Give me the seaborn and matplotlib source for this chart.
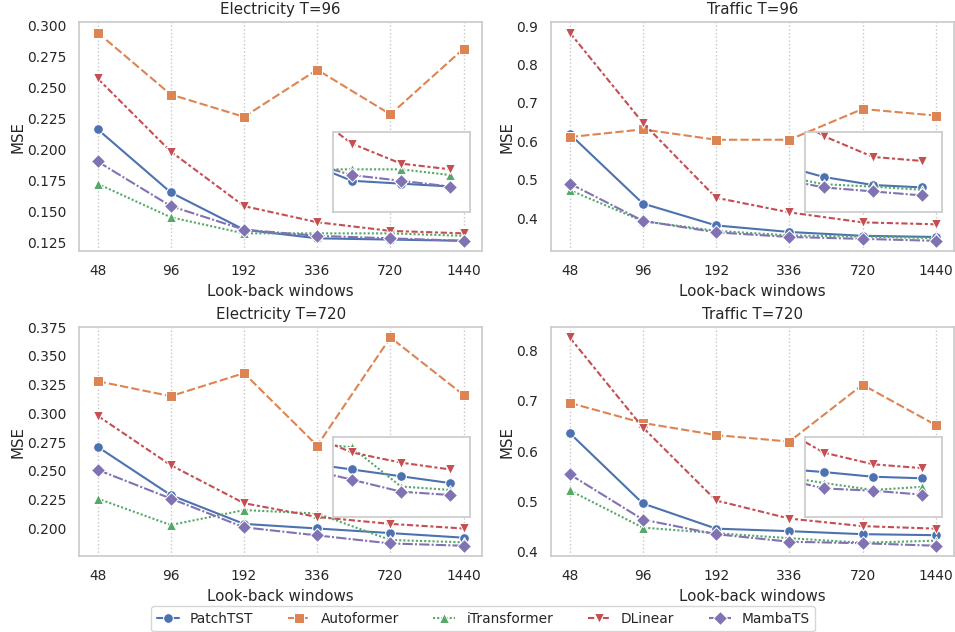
import numpy as np
import pandas as pd
import matplotlib
matplotlib.use("Agg")
import matplotlib.pyplot as plt
from matplotlib.ticker import MultipleLocator
import seaborn as sns

# Look-back windows (x categories) and model names
WINDOWS = ["48", "96", "192", "336", "720", "1440"]
MODELS = ["PatchTST", "Autoformer", "iTransformer", "DLinear", "MambaTS"]
MARKERS = ["o", "s", "^", "v", "D"]

# MSE values, one small table per panel
ELEC_96 = {
    "PatchTST":     [0.216, 0.165, 0.135, 0.128, 0.127, 0.126],
    "Autoformer":   [0.294, 0.244, 0.226, 0.264, 0.228, 0.281],
    "iTransformer": [0.172, 0.145, 0.132, 0.132, 0.132, 0.130],
    "DLinear":      [0.257, 0.198, 0.154, 0.141, 0.134, 0.132],
    "MambaTS":      [0.190, 0.154, 0.135, 0.130, 0.128, 0.126],
}
TRAFFIC_96 = {
    "PatchTST":     [0.619, 0.438, 0.381, 0.364, 0.354, 0.351],
    "Autoformer":   [0.611, 0.631, 0.604, 0.604, 0.684, 0.667],
    "iTransformer": [0.473, 0.392, 0.367, 0.355, 0.352, 0.348],
    "DLinear":      [0.883, 0.648, 0.453, 0.415, 0.389, 0.384],
    "MambaTS":      [0.490, 0.393, 0.363, 0.351, 0.346, 0.341],
}
ELEC_720 = {
    "PatchTST":     [0.271, 0.229, 0.204, 0.200, 0.196, 0.192],
    "Autoformer":   [0.328, 0.315, 0.335, 0.272, 0.366, 0.316],
    "iTransformer": [0.226, 0.203, 0.216, 0.213, 0.190, 0.188],
    "DLinear":      [0.298, 0.255, 0.222, 0.210, 0.204, 0.200],
    "MambaTS":      [0.251, 0.226, 0.201, 0.194, 0.187, 0.185],
}
TRAFFIC_720 = {
    "PatchTST":     [0.636, 0.496, 0.446, 0.441, 0.435, 0.433],
    "Autoformer":   [0.696, 0.656, 0.632, 0.619, 0.732, 0.652],
    "iTransformer": [0.522, 0.448, 0.437, 0.427, 0.418, 0.422],
    "DLinear":      [0.826, 0.647, 0.502, 0.466, 0.451, 0.446],
    "MambaTS":      [0.554, 0.464, 0.435, 0.420, 0.417, 0.412],
}

# title, data, y tick step, inset y range
PANELS = [
    ("Electricity T=96", ELEC_96, 0.025, (0.117, 0.145)),
    ("Traffic T=96", TRAFFIC_96, 0.1, (0.32, 0.42)),
    ("Electricity T=720", ELEC_720, 0.025, (0.172, 0.219)),
    ("Traffic T=720", TRAFFIC_720, 0.1, (0.383, 0.486)),
]


def to_long(table):
    rows = []
    for model in MODELS:
        for i, v in enumerate(table[model]):
            rows.append({"pos": i, "mse": v, "model": model})
    return pd.DataFrame(rows)


def draw(ax, df, legend=False):
    sns.lineplot(data=df, x="pos", y="mse", hue="model", style="model",
                 hue_order=MODELS, style_order=MODELS, markers=MARKERS,
                 dashes=True, markersize=7, ax=ax, legend=legend)


sns.set_theme(style="whitegrid", font_scale=0.9)
fig, axes = plt.subplots(2, 2, figsize=(9.55, 6.32), dpi=100)
fig.subplots_adjust(left=0.083, right=0.999, top=0.965, bottom=0.12,
                    wspace=0.1725, hspace=0.331)

handles, labels = None, None
for ax, (title, table, step, inset_ylim) in zip(axes.flat, PANELS):
    df = to_long(table)
    draw(ax, df, legend=(handles is None))
    if handles is None:
        handles, labels = ax.get_legend_handles_labels()
        ax.get_legend().remove()

    ax.set_title(title)
    ax.set_xlabel("Look-back windows")
    ax.set_ylabel("MSE", labelpad=1)
    ax.set_xticks(range(len(WINDOWS)))
    ax.set_xticklabels(WINDOWS)
    ax.yaxis.set_major_locator(MultipleLocator(step))
    ax.grid(axis="y", visible=False)
    ax.grid(axis="x", linestyle=":", color="#c8c8c8", linewidth=1)

    # zoomed view of the last three windows
    ins = ax.inset_axes([0.63, 0.17, 0.34, 0.35])
    draw(ins, df)
    ins.set_xlim(2.62, 5.4)
    ins.set_ylim(*inset_ylim)
    ins.set_xticks([])
    ins.set_yticks([])
    ins.set_xlabel("")
    ins.set_ylabel("")
    ins.grid(False)
    for sp in ins.spines.values():
        sp.set_edgecolor("#cccccc")
        sp.set_linewidth(1.25)

fig.legend(handles, labels, loc="lower center", ncol=5,
           bbox_to_anchor=(0.506, -0.01), frameon=True, columnspacing=2.5,
           handlelength=1.6)

plt.savefig("out.png", dpi=100)
